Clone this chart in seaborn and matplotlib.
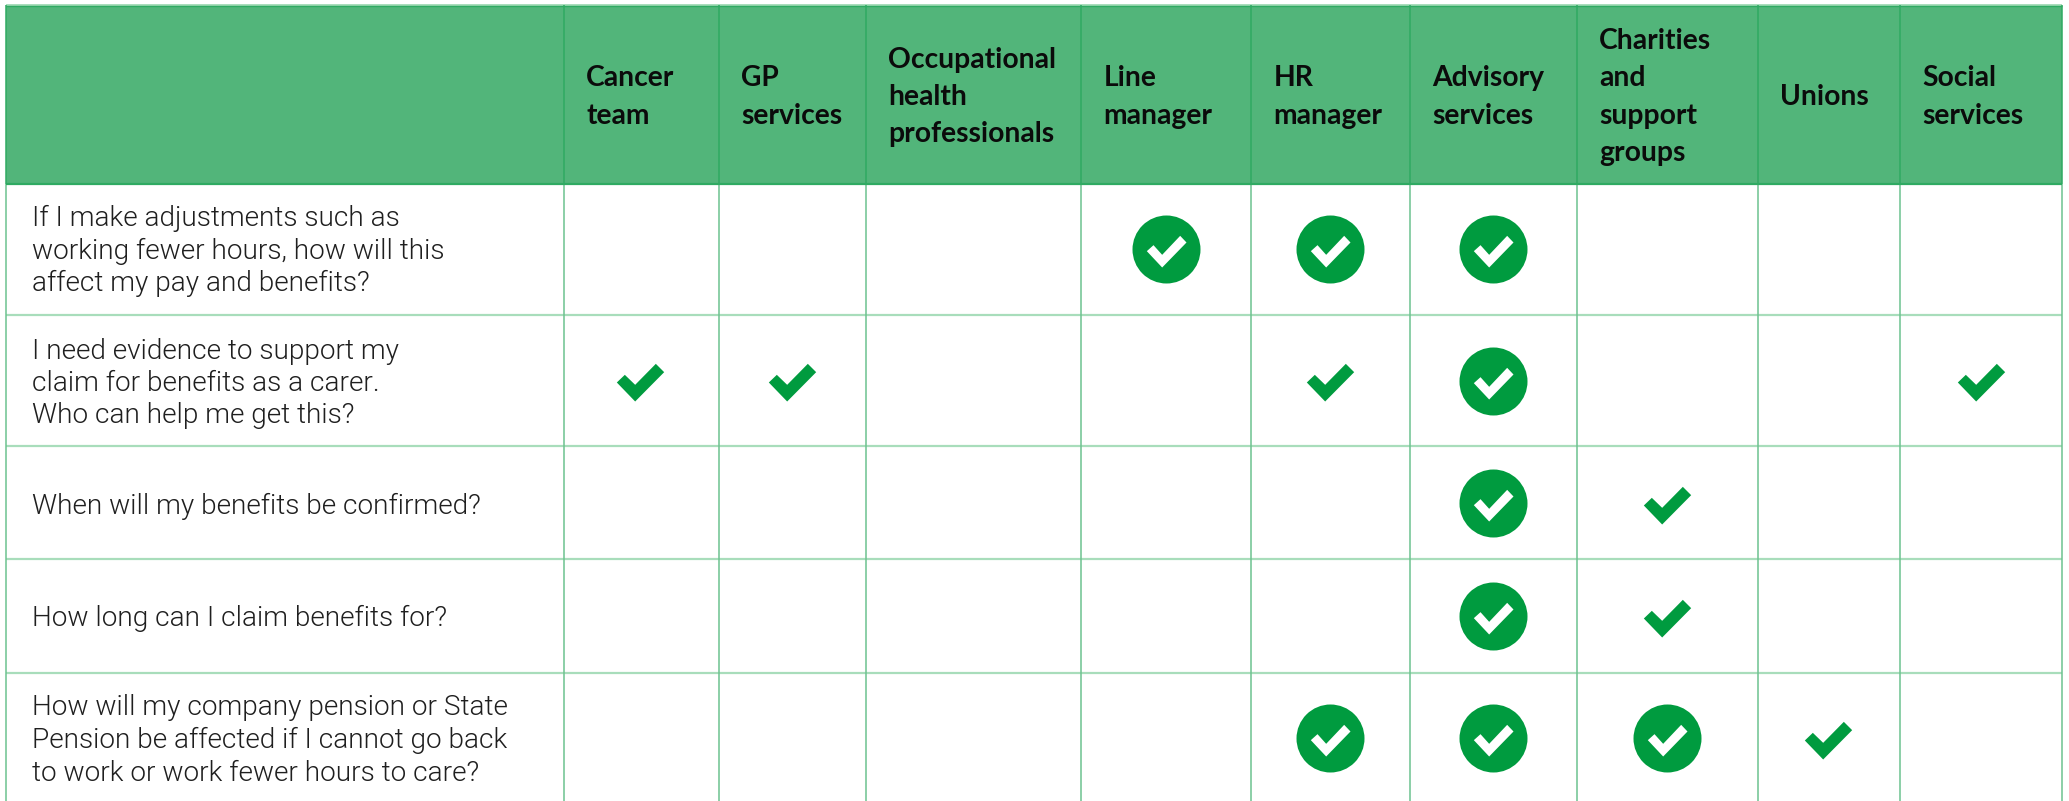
import numpy as np
import pandas as pd
import seaborn as sns
import matplotlib
matplotlib.use("Agg")
import matplotlib.pyplot as plt
from matplotlib.path import Path
from matplotlib.markers import MarkerStyle

# --- data -------------------------------------------------------------
services = ["Cancer\nteam", "GP\nservices", "Occupational\nhealth\nprofessionals",
            "Line\nmanager", "HR\nmanager", "Advisory\nservices",
            "Charities\nand\nsupport\ngroups", "Unions", "Social\nservices"]
questions = ["If I make adjustments such as\nworking fewer hours, how will this\naffect my pay and benefits?",
             "I need evidence to support my\nclaim for benefits as a carer.\nWho can help me get this?",
             "When will my benefits be confirmed?",
             "How long can I claim benefits for?",
             "How will my company pension or State\nPension be affected if I cannot go back\nto work or work fewer hours to care?"]
# 0 = nothing, 1 = plain tick, 2 = tick in a circle
q1_marks = [0, 0, 0, 2, 2, 2, 0, 0, 0]
q2_marks = [1, 1, 0, 0, 1, 2, 0, 0, 1]
q3_marks = [0, 0, 0, 0, 0, 2, 1, 0, 0]
q4_marks = [0, 0, 0, 0, 0, 2, 1, 0, 0]
q5_marks = [0, 0, 0, 0, 2, 2, 2, 1, 0]
all_marks = [q1_marks, q2_marks, q3_marks, q4_marks, q5_marks]

# --- layout (figure pixels) -------------------------------------------
W, H = 2069, 801
col_edges = [5.5, 563.7, 718.7, 865.6, 1081, 1251, 1409.5, 1576.5, 1758, 1900, 2062]
row_edges = [184, 315, 445.5, 559, 672.5, 801]
mark_x = [640, 791.5, 965, 1166, 1330.2, 1492.5, 1667, 1828, 1980.5]
mark_y = [249, 380.5, 503, 616, 738]
text_y = [251, 383.5, 506, 618, 740.5]
plain_dy = 1.5
header_top = 5
GREEN = "#009B3F"

rows = []
for i, marks in enumerate(all_marks):
    for j, m in enumerate(marks):
        if m:
            rows.append(dict(x=mark_x[j], y=mark_y[i] + (plain_dy if m == 1 else 0), kind=m))
df = pd.DataFrame(rows)

sns.set_theme(style="white")
plt.rcParams["font.family"] = ["Lato", "DejaVu Sans"]
fig = plt.figure(figsize=(W / 100, H / 100), dpi=100, facecolor="white")
ax = fig.add_axes([0, 0, 1, 1])
ax.set_xlim(0, W)
ax.set_ylim(H, 0)
ax.axis("off")

# header band and grid
ax.fill_between([col_edges[0], col_edges[-1]], header_top, row_edges[0], color="#52B57A", lw=0, zorder=1)
ax.hlines(header_top - 0.5, col_edges[0], col_edges[-1], color="#A8DDBB", lw=1.4, zorder=2)
ax.hlines(header_top + 0.5, col_edges[0], col_edges[-1], color="#2FAA62", lw=1.0, zorder=2)
ax.hlines(row_edges[0], col_edges[0], col_edges[-1], color="#2FAA62", lw=1.6, zorder=3)
ax.hlines(row_edges[1:-1], col_edges[0], col_edges[-1], color="#A8DDBB", lw=1.6, zorder=2)
ax.vlines(col_edges, header_top, row_edges[0], color="#2FAA62", lw=1.1, zorder=2)
ax.vlines(col_edges, row_edges[0], row_edges[-1], color="#6CC28F", lw=1.1, zorder=2)


def tick_marker(pts):
    v = np.array(pts + [pts[0]], dtype=float)
    v[:, 1] *= -1
    codes = [Path.MOVETO] + [Path.LINETO] * (len(pts) - 1) + [Path.CLOSEPOLY]
    return MarkerStyle(Path(v, codes))


plain = tick_marker([(-71, 0), (-47, -23), (-16, 7), (46, -56), (71, -31), (-16, 57)])
inner = tick_marker([(-59, 5), (-39, -13), (-13, 16), (41, -41), (60, -21), (-13, 54)])

px2pt = 0.72
sns.scatterplot(data=df[df.kind == 1], x="x", y="y", marker=plain, color=GREEN,
                s=(2 * 71 / 3 * px2pt) ** 2, linewidth=0, legend=False, ax=ax, zorder=4)
sns.scatterplot(data=df[df.kind == 2], x="x", y="y", marker="o", color=GREEN,
                s=(68 * px2pt) ** 2, linewidth=0, legend=False, ax=ax, zorder=4)
sns.scatterplot(data=df[df.kind == 2], x="x", y="y", marker=inner, color="white",
                s=(2 * 60 / 3 * px2pt) ** 2, linewidth=0, legend=False, ax=ax, zorder=5)
ax.set_xlabel("")
ax.set_ylabel("")
ax.set_xlim(0, W)
ax.set_ylim(H, 0)

for j, label in enumerate(services):
    ax.text(col_edges[j + 1] + 22.5, 97, label, ha="left", va="center", fontsize=20.3,
            fontweight="bold", color="#0b0b0b", linespacing=1.53, zorder=6)

for i, label in enumerate(questions):
    ax.text(32.5, text_y[i], label, ha="left", va="center", fontsize=20.2,
            family=["Roboto", "DejaVu Sans"], fontweight=300, color="#1f1f1f",
            linespacing=1.26, zorder=6)

fig.savefig("out.png", dpi=100, facecolor="white")
